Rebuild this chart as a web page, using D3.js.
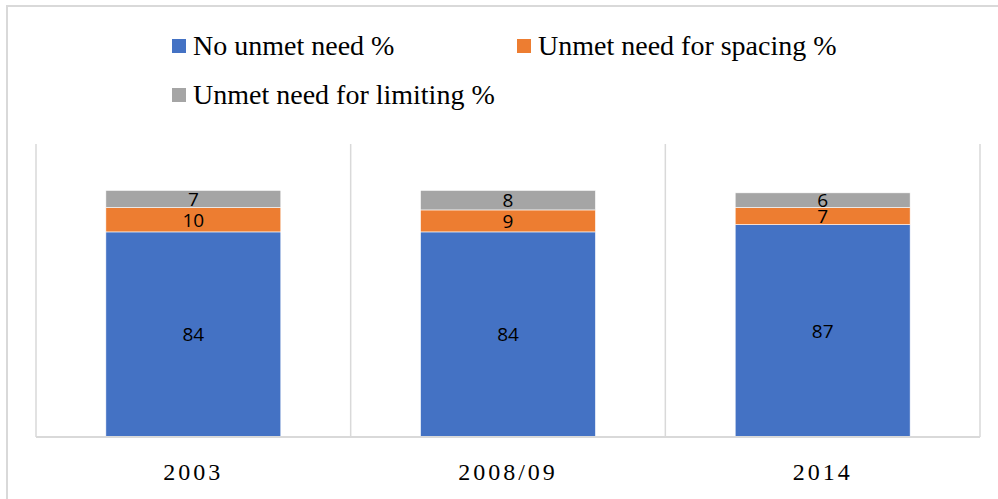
<!DOCTYPE html>
<html>
<head>
<meta charset="utf-8">
<script src="https://cdn.jsdelivr.net/npm/d3@7"></script>
<style>
  html, body { margin: 0; padding: 0; background: #fff; }
  svg { display: block; }
  .serif { font-family: "Liberation Serif", "Times New Roman", Tinos, "DejaVu Serif", serif; }
  .sans { font-family: "Open Sans", "Liberation Sans", Arial, sans-serif; }
</style>
</head>
<body>
<svg id="chart" width="998" height="499"></svg>
<script>
// Survey rounds and the share of women in each unmet-need group
const categories = ["2003", "2008/09", "2014"];
const seriesNames = ["No unmet need %", "Unmet need for spacing %", "Unmet need for limiting %"];
const noUnmetNeed = [84, 84, 87];
const spacingNeed = [10, 9, 7];
const limitingNeed = [7, 8, 6];
const colors = ["#4472C4", "#ED7D31", "#A5A5A5"];

const rows = categories.map((c, i) => ({
  year: c,
  [seriesNames[0]]: noUnmetNeed[i],
  [seriesNames[1]]: spacingNeed[i],
  [seriesNames[2]]: limitingNeed[i]
}));

const svg = d3.select("#chart");
const W = 998, H = 499;

// outer frame
svg.append("rect")
  .attr("x", 7).attr("y", 6)
  .attr("width", W + 10).attr("height", H + 10)
  .attr("fill", "none").attr("stroke", "#d9d9d9").attr("stroke-width", 2);

const plot = { left: 36, right: 980, top: 144, bottom: 437 };

const x = d3.scaleBand()
  .domain(categories)
  .range([plot.left, plot.right])
  .paddingInner(0.444)
  .paddingOuter(0.222);

const y = d3.scaleLinear().domain([0, 120]).range([plot.bottom, plot.top]);

// category separators
const bounds = d3.range(categories.length + 1).map(i => plot.left + i * x.step());
svg.append("g").selectAll("line").data(bounds).join("line")
  .attr("x1", d => d).attr("x2", d => d)
  .attr("y1", plot.top).attr("y2", plot.bottom)
  .attr("stroke", "#d9d9d9").attr("stroke-width", 1.5);

const stack = d3.stack().keys(seriesNames)(rows);

const groups = svg.append("g").selectAll("g").data(stack).join("g")
  .attr("fill", (d, i) => colors[i]);

groups.selectAll("rect").data(d => d).join("rect")
  .attr("x", d => x(d.data.year))
  .attr("width", x.bandwidth())
  .attr("y", d => y(d[1]))
  .attr("height", d => y(d[0]) - y(d[1]))
  .attr("stroke", "#ffffff").attr("stroke-width", 0.6);

// value labels in each segment
groups.selectAll("text").data(d => d).join("text")
  .attr("class", "sans")
  .attr("x", d => x(d.data.year) + x.bandwidth() / 2)
  .attr("y", d => (y(d[0]) + y(d[1])) / 2)
  .attr("dy", "0.36em")
  .attr("text-anchor", "middle")
  .attr("fill", "#000")
  .attr("font-size", 19)
  .text(d => d[1] - d[0]);

// category axis
const xAxis = svg.append("g")
  .attr("transform", `translate(0,${plot.bottom})`)
  .call(d3.axisBottom(x).tickSize(0).tickPadding(26));
xAxis.attr("font-family", null).attr("font-size", null);
xAxis.select(".domain")
  .attr("d", `M${plot.left},0H${plot.right}`)
  .attr("stroke", "#d9d9d9").attr("stroke-width", 2);
xAxis.selectAll("text")
  .attr("class", "serif")
  .attr("fill", "#000")
  .attr("font-size", 24)
  .attr("letter-spacing", 3);

// legend
const legendItems = [
  { name: seriesNames[0], color: colors[0], x: 172, y: 46 },
  { name: seriesNames[1], color: colors[1], x: 517, y: 46 },
  { name: seriesNames[2], color: colors[2], x: 172, y: 95 }
];
const lg = svg.append("g").selectAll("g").data(legendItems).join("g")
  .attr("transform", d => `translate(${d.x},${d.y})`);
lg.append("rect")
  .attr("x", 0).attr("y", -7).attr("width", 14).attr("height", 14)
  .attr("fill", d => d.color);
lg.append("text")
  .attr("class", "serif")
  .attr("x", 21).attr("y", 9)
  .attr("fill", "#000")
  .attr("font-size", 28)
  .text(d => d.name);
</script>
</body>
</html>
